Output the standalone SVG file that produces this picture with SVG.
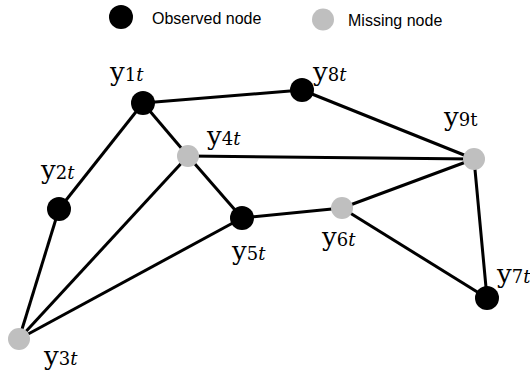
<svg xmlns="http://www.w3.org/2000/svg" width="530" height="375" viewBox="0 0 530 375">
<style>
.obs{fill:#000}
.mis{fill:#bfbfbf}
.edge{stroke:#000;stroke-width:3;fill:none}
.leg{font-family:"Liberation Sans",Arial,sans-serif;font-size:16px;fill:#000}
.lbl{font-family:"DejaVu Serif","Liberation Serif",serif;font-size:26px;fill:#000}
.sub{font-size:18px}
.it{font-style:italic}
</style>
<rect width="530" height="375" fill="#fff"/>
<g id="legend">
<circle class="obs" cx="121" cy="17" r="12"/>
<text class="leg" x="152" y="24">Observed node</text>
<circle class="mis" cx="323" cy="19.5" r="11"/>
<text class="leg" x="348" y="26">Missing node</text>
</g>
<g id="connectors">
<line class="edge" x1="143" y1="103" x2="302" y2="90"/>
<line class="edge" x1="302" y1="90" x2="474" y2="159"/>
<line class="edge" x1="143" y1="103" x2="59" y2="209"/>
<line class="edge" x1="143" y1="103" x2="188" y2="156"/>
<line class="edge" x1="59" y1="209" x2="19" y2="339"/>
<line class="edge" x1="188" y1="156" x2="19" y2="339"/>
<line class="edge" x1="188" y1="156" x2="242" y2="218"/>
<line class="edge" x1="188" y1="156" x2="474" y2="159"/>
<line class="edge" x1="242" y1="218" x2="19" y2="339"/>
<line class="edge" x1="242" y1="218" x2="342" y2="208"/>
<line class="edge" x1="342" y1="208" x2="474" y2="159"/>
<line class="edge" x1="342" y1="208" x2="487" y2="298"/>
<line class="edge" x1="474" y1="159" x2="487" y2="298"/>
</g>
<g id="y1"><circle class="obs" cx="143" cy="103" r="12"/><text class="lbl" x="110" y="81">y<tspan class="sub">1<tspan class="it">t</tspan></tspan></text></g>
<g id="y2"><circle class="obs" cx="59" cy="209" r="12"/><text class="lbl" x="41" y="179">y<tspan class="sub">2<tspan class="it">t</tspan></tspan></text></g>
<g id="y3"><circle class="mis" cx="19" cy="339" r="11"/><text class="lbl" x="44" y="365">y<tspan class="sub">3<tspan class="it">t</tspan></tspan></text></g>
<g id="y4"><circle class="mis" cx="188" cy="156" r="11"/><text class="lbl" x="207" y="145">y<tspan class="sub">4<tspan class="it">t</tspan></tspan></text></g>
<g id="y5"><circle class="obs" cx="242" cy="218" r="12"/><text class="lbl" x="232" y="260">y<tspan class="sub">5<tspan class="it">t</tspan></tspan></text></g>
<g id="y6"><circle class="mis" cx="342" cy="208" r="11"/><text class="lbl" x="322" y="246">y<tspan class="sub">6<tspan class="it">t</tspan></tspan></text></g>
<g id="y7"><circle class="obs" cx="487" cy="298" r="12"/><text class="lbl" x="497" y="283">y<tspan class="sub">7<tspan class="it">t</tspan></tspan></text></g>
<g id="y8"><circle class="obs" cx="302" cy="90" r="12"/><text class="lbl" x="313" y="81">y<tspan class="sub">8<tspan class="it">t</tspan></tspan></text></g>
<g id="y9"><circle class="mis" cx="474" cy="159" r="11"/><text class="lbl" x="444" y="126">y<tspan class="sub">9t</tspan></text></g>
</svg>
